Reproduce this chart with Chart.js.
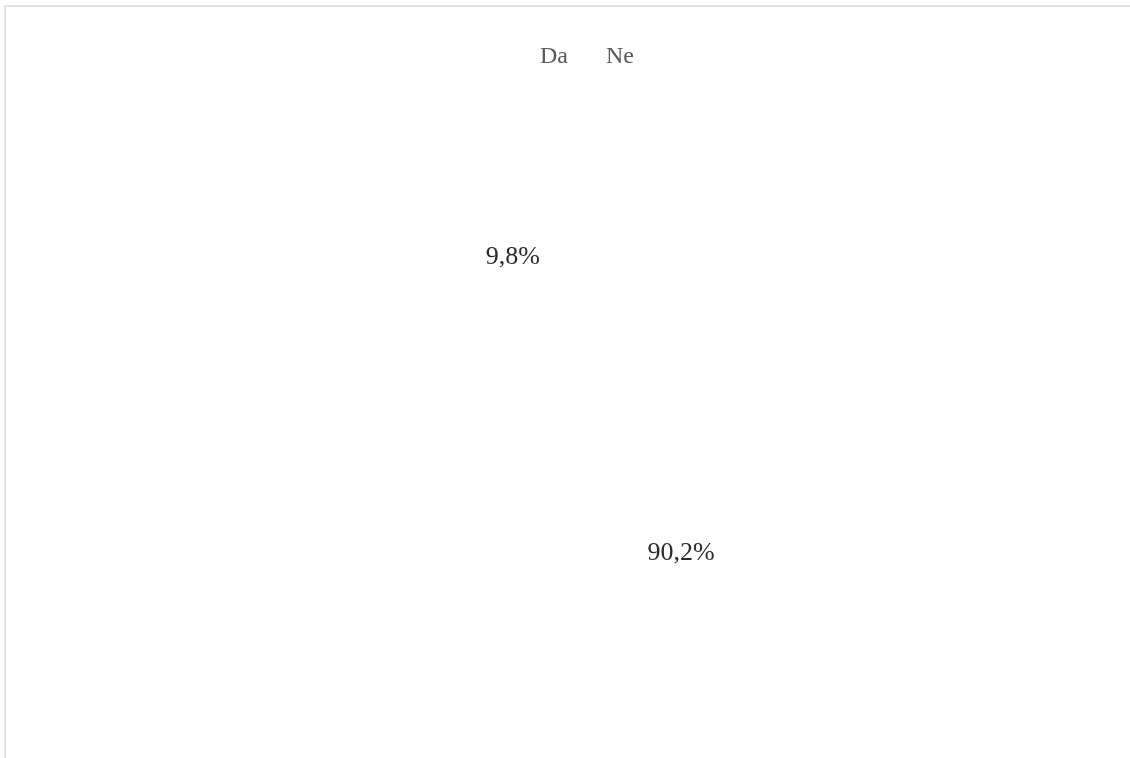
<!DOCTYPE html>
<html>
<head>
<meta charset="utf-8">
<script src="https://cdn.jsdelivr.net/npm/chart.js@4.4.0/dist/chart.umd.min.js"></script>
<style>
    body { margin: 0; background: #fff; }
    #frame { position: absolute; left: 4px; top: 5px; width: 1130px; height: 760px;
             border-top: 2px solid #e2e2e2; border-left: 2px solid #e2e2e2; }
    #wrap { position: absolute; left: 0; top: 0; width: 1130px; height: 758px; }
</style>
</head>
<body>
<div id="frame"></div>
<div id="wrap"><canvas id="pieChart"></canvas></div>
<script>
// Données du graphique
const categories = ['Da', 'Ne'];
const values = [9.8, 90.2];
const sliceColors = ['#ffffff', '#ffffff'];

// Etiquettes de pourcentage dans les secteurs
const pieLabels = {
    id: 'pieLabels',
    afterDatasetsDraw(chart) {
        const ctx = chart.ctx;
        const meta = chart.getDatasetMeta(0);
        ctx.save();
        ctx.font = '26px "Liberation Serif"';
        ctx.fillStyle = '#2b2b2b';
        ctx.textAlign = 'center';
        ctx.textBaseline = 'middle';
        meta.data.forEach((arc, i) => {
            const p = arc.getProps(['x', 'y', 'startAngle', 'endAngle', 'outerRadius'], true);
            const mid = (p.startAngle + p.endAngle) / 2;
            const r = p.outerRadius * 0.5224;
            const txt = values[i].toFixed(1).replace('.', ',') + '%';
            ctx.fillText(txt, p.x + Math.cos(mid) * r, p.y + Math.sin(mid) * r);
        });
        ctx.restore();
    }
};

const ctx = document.getElementById('pieChart').getContext('2d');
new Chart(ctx, {
    type: 'pie',
    data: {
        labels: categories,
        datasets: [{
            data: values,
            backgroundColor: sliceColors,
            borderWidth: 0
        }]
    },
    options: {
        responsive: true,
        maintainAspectRatio: false,
        animation: false,
        rotation: -47.25,
        layout: {
            padding: { top: 19, bottom: 27, left: 32, right: 0 }
        },
        plugins: {
            tooltip: { enabled: false },
            // titre vide à gauche : décale le camembert sans bouger la légende
            title: {
                display: true,
                text: ' ',
                position: 'left',
                fullSize: false,
                font: { size: 10, lineHeight: 1.2 },
                padding: { top: 10, bottom: 10 }
            },
            legend: {
                position: 'top',
                labels: {
                    boxWidth: 0,
                    padding: 26,
                    color: '#595959',
                    font: { family: '"Liberation Serif"', size: 24 }
                }
            }
        }
    },
    plugins: [pieLabels]
});
</script>
</body>
</html>
